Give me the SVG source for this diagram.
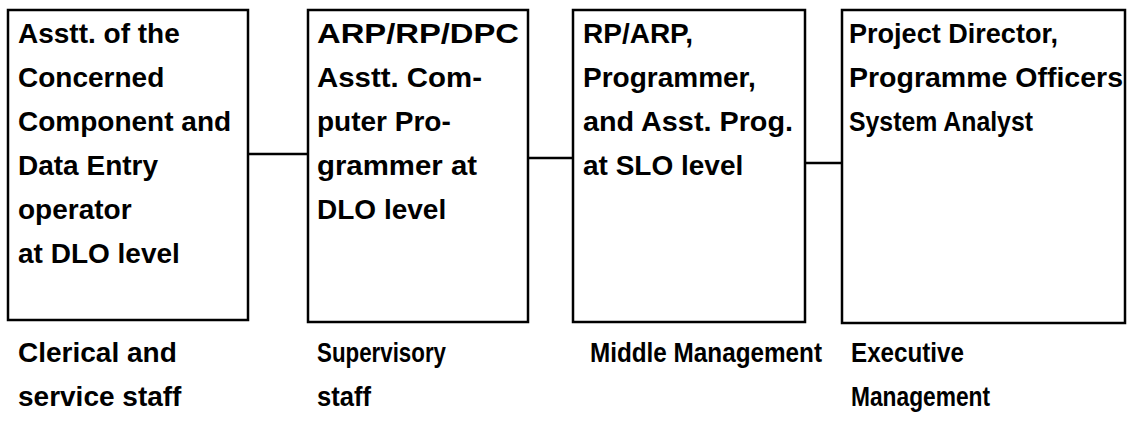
<svg xmlns="http://www.w3.org/2000/svg" width="1129" height="426" viewBox="0 0 1129 426">
  <style>
    .box { fill: #ffffff; stroke: #000000; stroke-width: 2.5; }
    .link { stroke: #000000; stroke-width: 2.5; fill: none; }
    .t { font-family: "Liberation Sans", Arial, sans-serif; font-weight: bold; font-size: 28px; fill: #000000; }
  </style>
  <rect width="1129" height="426" fill="#ffffff"/>

  <!-- connectors between the staff levels -->
  <g id="connectors">
    <line class="link" x1="248" y1="154" x2="308" y2="154"/>
    <line class="link" x1="528" y1="158" x2="573" y2="158"/>
    <line class="link" x1="805" y1="163" x2="842" y2="163"/>
  </g>

  <g id="clerical">
    <rect class="box" x="8" y="10" width="240" height="310"/>
    <text class="t" x="18" y="43">Asstt. of the</text>
    <text class="t" x="18" y="87">Concerned</text>
    <text class="t" x="18" y="131">Component and</text>
    <text class="t" x="18" y="175">Data Entry</text>
    <text class="t" x="18" y="219">operator</text>
    <text class="t" x="18" y="263">at DLO level</text>
    <text class="t" x="18" y="362">Clerical and</text>
    <text class="t" x="18" y="406">service staff</text>
  </g>

  <g id="supervisory">
    <rect class="box" x="308" y="10" width="220" height="312"/>
    <text class="t" x="317" y="43" textLength="202" lengthAdjust="spacingAndGlyphs">ARP/RP/DPC</text>
    <text class="t" x="317" y="87" textLength="165" lengthAdjust="spacingAndGlyphs">Asstt. Com-</text>
    <text class="t" x="317" y="131">puter Pro-</text>
    <text class="t" x="317" y="175" textLength="160" lengthAdjust="spacingAndGlyphs">grammer at</text>
    <text class="t" x="317" y="219">DLO level</text>
    <text class="t" x="317" y="362" textLength="129" lengthAdjust="spacingAndGlyphs">Supervisory</text>
    <text class="t" x="317" y="406" textLength="54" lengthAdjust="spacingAndGlyphs">staff</text>
  </g>

  <g id="middle">
    <rect class="box" x="573" y="10" width="232" height="312"/>
    <text class="t" x="583" y="43">RP/ARP,</text>
    <text class="t" x="583" y="87">Programmer,</text>
    <text class="t" x="583" y="131" textLength="210" lengthAdjust="spacingAndGlyphs">and Asst. Prog.</text>
    <text class="t" x="583" y="175">at SLO level</text>
    <text class="t" x="590" y="362" textLength="232" lengthAdjust="spacingAndGlyphs">Middle Management</text>
  </g>

  <g id="executive">
    <rect class="box" x="842" y="10" width="283" height="313"/>
    <text class="t" x="849" y="43" textLength="209" lengthAdjust="spacingAndGlyphs">Project Director,</text>
    <text class="t" x="849" y="87" textLength="274" lengthAdjust="spacingAndGlyphs">Programme Officers</text>
    <text class="t" x="849" y="131" textLength="184" lengthAdjust="spacingAndGlyphs">System Analyst</text>
    <text class="t" x="851" y="362" textLength="113" lengthAdjust="spacingAndGlyphs">Executive</text>
    <text class="t" x="851" y="406" textLength="139" lengthAdjust="spacingAndGlyphs">Management</text>
  </g>
</svg>
